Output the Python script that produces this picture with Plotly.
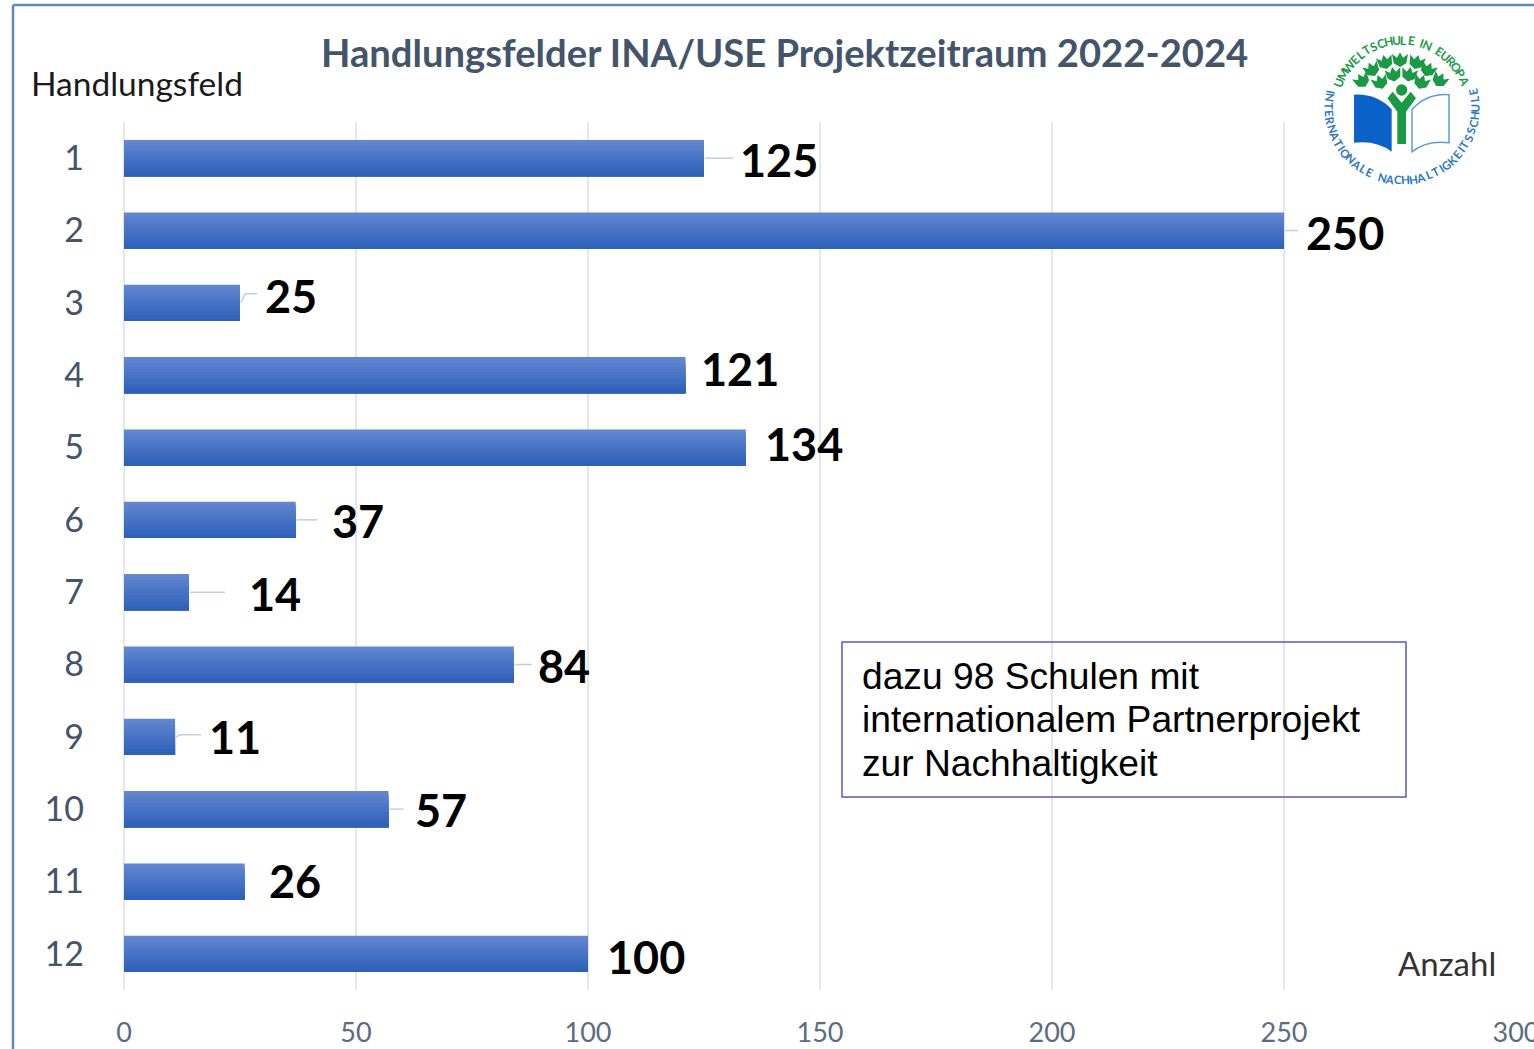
import math
import plotly.graph_objects as go

# ---- data ----
categories = ["1", "2", "3", "4", "5", "6", "7", "8", "9", "10", "11", "12"]
values = [125, 250, 25, 121, 134, 37, 14, 84, 11, 57, 26, 100]
x_ticks = [0, 50, 100, 150, 200, 250, 300]
title_text = "Handlungsfelder INA/USE Projektzeitraum 2022-2024"
y_title = "Handlungsfeld"
x_title = "Anzahl"
note_lines = ["dazu 98 Schulen mit", "internationalem Partnerprojekt", "zur Nachhaltigkeit"]
logo_top = "UMWELTSCHULE IN EUROPA"
logo_bottom = "INTERNATIONALE NACHHALTIGKEITSSCHULE"

# ---- styling / placement ----
W, H = 1534, 1049      # picture size
PAD_W, PAD_H = 17, 11  # the page renders the figure this much smaller than requested
L, R, T, B = 124, 1516, 122, 990
TOP_RGB, BOT_RGB = (98, 134, 208), (46, 97, 186)
N_STRIPS = 12
BAR_H = 0.5
label_dx = [75, 61, 51, 55, 58, 62, 86, 50, 60, 53, 50, 58]
label_dy = [2, 2, -7, -6, -4, 1, 2, 1, 0, 1, -1, 3]
# leader line length in px and optional rise
leader_len = [29, 14, 17, 0, 0, 22, 36, 18, 26, 15, 0, 0]
leader_rise = [0, 0, 9, 0, 0, 0, 0, 0, 2, 0, 0, 0]


def px(x):
    return (x - L) / (R - L)


def py(y):
    return (B - y) / (B - T)


fig = go.Figure()

# gradient bars: later strips paint over the lower part of earlier ones
for i in range(N_STRIPS):
    f = i / (N_STRIPS - 1)
    rgb = tuple(round(a + (b - a) * f) for a, b in zip(TOP_RGB, BOT_RGB))
    step = BAR_H / N_STRIPS
    fig.add_trace(go.Bar(
        y=categories, x=values, orientation="h",
        width=BAR_H - i * step, offset=-BAR_H / 2 + i * step,
        marker=dict(color=f"rgb{rgb}", line=dict(width=0)),
        showlegend=False, hoverinfo="skip" if i else None,
    ))

shapes = []
annotations = []

# leader lines + value labels (category axis positions are the list indexes)
for idx, (v, dx, dy, ln, rise) in enumerate(zip(values, label_dx, label_dy, leader_len, leader_rise)):
    if ln:
        shapes.append(dict(
            type="path", xref="x", yref="y",
            xsizemode="pixel", ysizemode="pixel", xanchor=v, yanchor=idx,
            path=f"M 1 0 L {5 if rise else 2} {rise} L {ln} {rise}",
            line=dict(color="#c3cfdf", width=1.5),
        ))
    annotations.append(dict(
        x=v, y=idx, xref="x", yref="y", text=f"<b>{v}</b>", showarrow=False,
        xanchor="center", yanchor="middle", xshift=dx, yshift=-dy,
        font=dict(family="Lato", size=45, color="#000000"),
    ))


def text_at(x, y, text, size, color, xanchor="left", family="Lato", angle=0):
    annotations.append(dict(
        x=px(x), y=py(y), xref="paper", yref="paper", text=text, showarrow=False,
        xanchor=xanchor, yanchor="middle", textangle=angle,
        font=dict(family=family, size=size, color=color),
    ))


text_at(784, 52, f"<b>{title_text}</b>", 38.2, "#44546a", "center")
text_at(29, 83, y_title, 33.5, "#1a1a1a")
text_at(1396, 963, x_title, 33, "#333333")

# note box
shapes.append(dict(type="rect", xref="paper", yref="paper", x0=px(842), x1=px(1406),
                   y0=py(797), y1=py(642), line=dict(color="#5a5ac4", width=1.5)))
for line, yy in zip(note_lines, [676, 719, 763]):
    text_at(860, yy, line, 37.2, "#000000", family="Liberation Sans")

# page frame (top and left only)
shapes.append(dict(type="line", xref="paper", yref="paper", x0=px(13), x1=px(1534), y0=py(5), y1=py(5),
                   line=dict(color="#5f86c9", width=2.5)))
shapes.append(dict(type="line", xref="paper", yref="paper", x0=px(13), x1=px(13), y0=py(5), y1=py(1049),
                   line=dict(color="#5f86c9", width=2.5)))

# ---- logo ----
CX, CY = 1402, 107
GREEN = "#1b9a46"


def zx(v):
    return px(1280 + v / 3)


def zy(v):
    return py(v / 3)


def path(points_cmds, fill, line=None, width=0):
    shapes.append(dict(type="path", xref="paper", yref="paper", path=points_cmds,
                       fillcolor=fill, line=dict(color=line or fill, width=width)))


def zp(x, y):
    return f"{zx(x):.5f},{zy(y):.5f}"


def arc_fractions(text):
    """Position of each letter along its arc, 0..1, by rough glyph width."""
    w = [{"I": 0.5, " ": 0.7, "M": 1.3, "W": 1.4}.get(c, 1.0) for c in text]
    total = sum(w) - (w[0] + w[-1]) / 2
    out, run = [], 0.0
    for i, a in enumerate(w):
        if i:
            run += (w[i - 1] + a) / 2
        out.append(run / total)
    return out


# arc lettering
for ch, f in zip(logo_top, arc_fractions(logo_top)):
    th = -69 + 136 * f
    r = 67
    x = CX + r * math.sin(math.radians(th))
    y = CY - r * math.cos(math.radians(th))
    text_at(x, y, f"<b>{ch}</b>", 12, GREEN, "center", angle=th)
for ch, f in zip(logo_bottom, arc_fractions(logo_bottom)):
    ph = 102 - 204 * f
    r = 73
    x = CX - r * math.sin(math.radians(ph))
    y = CY + r * math.cos(math.radians(ph))
    text_at(x, y, f"<b>{ch}</b>", 11.5, "#2a76c8", "center", angle=ph)

# leaves of the crown
for lx, ly, rot in [(315, 185, -15), (360, 178, 0), (410, 185, 15),
                    (275, 207, -25), (445, 207, 25), (340, 222, -10), (388, 222, 10),
                    (245, 240, -30), (300, 245, -20), (480, 238, 30), (425, 245, 20)]:
    pts = [(-24, -16), (-9, -5), (0, -21), (9, -5), (24, -16), (19, 12), (0, 23), (-19, 12)]
    a = math.radians(rot)
    q = [(lx + p * math.cos(a) - s * math.sin(a), ly + p * math.sin(a) + s * math.cos(a)) for p, s in pts]
    path("M " + " L ".join(zp(*c) for c in q) + " Z", GREEN)

# head
shapes.append(dict(type="circle", xref="paper", yref="paper", x0=zx(348), x1=zx(382), y0=zy(287), y1=zy(253),
                   fillcolor=GREEN, line=dict(width=0)))
# trunk with arms
path(f"M {zp(352,432)} L {zp(378,432)} L {zp(378,335)} L {zp(408,295)} L {zp(392,275)} L {zp(365,308)} "
     f"L {zp(338,275)} L {zp(322,295)} L {zp(352,335)} Z", GREEN)
# left filled page
path(f"M {zp(222,284)} Q {zp(290,280)} {zp(335,328)} L {zp(335,455)} Q {zp(290,420)} {zp(222,428)} Z", "#0a62c8")
# right outlined page
path(f"M {zp(507,284)} Q {zp(440,280)} {zp(396,328)} L {zp(396,455)} Q {zp(440,420)} {zp(507,428)} Z",
     "#ffffff", "#5b9be0", 1.5)

fig.update_layout(
    width=W + PAD_W, height=H + PAD_H, autosize=False,
    margin=dict(l=L, r=W - R, t=T, b=H - B, pad=0),
    paper_bgcolor="#ffffff", plot_bgcolor="#ffffff",
    barmode="overlay", showlegend=False,
    font=dict(family="Lato"),
    shapes=shapes, annotations=annotations,
    xaxis=dict(
        range=[0, 300], tickmode="array", tickvals=x_ticks, ticktext=[str(t) for t in x_ticks],
        showgrid=True, gridcolor="#e2e7ee", gridwidth=2,
        zeroline=True, zerolinecolor="#e2e7ee", zerolinewidth=2,
        showline=False, ticks="", ticklabelstandoff=24, ticklabeloverflow="allow",
        tickfont=dict(family="Lato", size=27, color="#5b6b82"),
    ),
    yaxis=dict(
        type="category", categoryorder="array", categoryarray=categories,
        range=[11.5, -0.5],
        showgrid=False, zeroline=False, showline=False, ticks="", ticklabelstandoff=39,
        tickfont=dict(family="Lato", size=34, color="#44546a"),
    ),
)

fig.write_html(
    "out.html",
    config={"displayModeBar": False},
    post_script="document.body.style.margin='0';document.documentElement.style.overflow='hidden';",
)
